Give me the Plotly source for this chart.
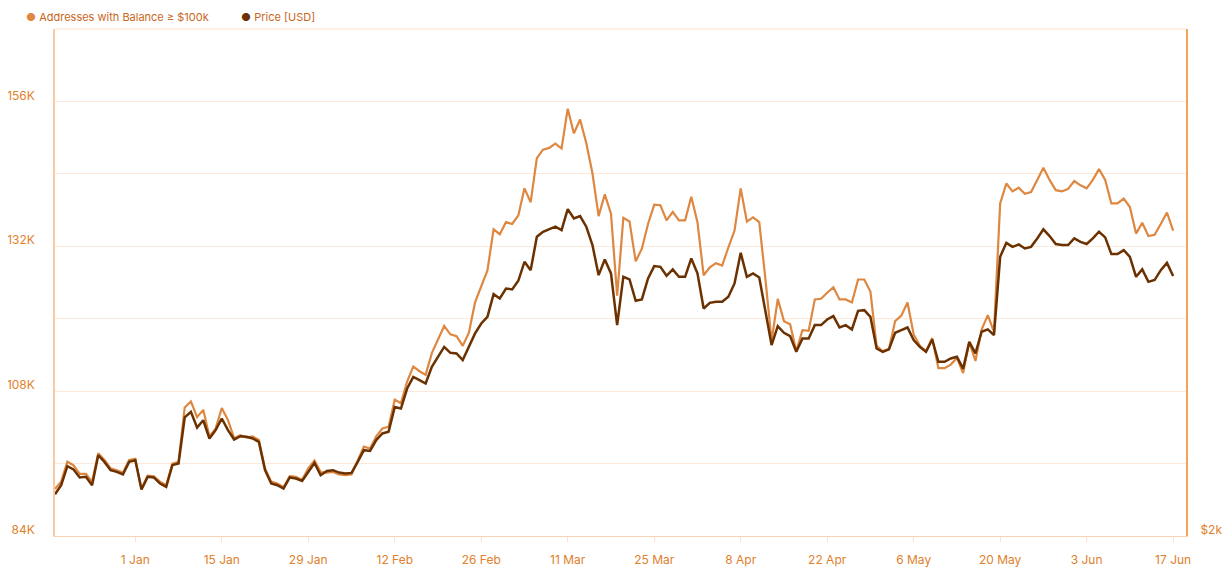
import pandas as pd
import plotly.graph_objects as go

# daily series, 19 Dec 2023 -> 18 Jun 2024
dates = pd.date_range("2023-12-19", "2024-06-18", freq="D")

# addresses holding >= $100k, in thousands
addresses_k = [
    91.8, 93.0, 96.3, 95.7, 94.3, 94.3, 93.0, 97.7, 96.6, 95.2,
    94.9, 94.5, 96.6, 96.8, 91.8, 94.0, 93.9, 93.0, 92.4, 96.0,
    96.3, 105.3, 106.3, 103.7, 104.9, 100.5, 101.8, 105.2, 103.2, 100.2,
    100.7, 100.3, 100.5, 99.9, 95.2, 93.0, 92.7, 92.1, 93.9, 93.8,
    93.3, 95.2, 96.5, 94.6, 94.5, 94.6, 94.2, 94.1, 94.2, 96.6,
    98.8, 98.5, 100.5, 101.8, 102.1, 106.6, 106.0, 109.6, 112.1, 111.3,
    110.7, 114.3, 116.6, 118.8, 117.4, 117.1, 115.5, 117.7, 122.7, 125.5,
    128.0, 134.8, 134.0, 136.0, 135.7, 137.1, 141.6, 139.3, 146.6, 148.0,
    148.3, 149.0, 148.2, 154.8, 150.7, 153.0, 149.1, 144.1, 137.0, 140.6,
    137.4, 123.8, 136.7, 136.1, 129.5, 131.6, 135.7, 138.9, 138.8, 136.3,
    137.7, 136.3, 136.3, 140.2, 136.0, 127.2, 128.5, 129.2, 128.8, 131.8,
    134.6, 141.6, 136.1, 136.8, 136.0, 126.6, 116.3, 123.3, 119.6, 119.1,
    114.6, 118.1, 118.0, 123.2, 123.3, 124.3, 125.2, 123.2, 123.2, 122.7,
    126.5, 126.5, 124.5, 115.5, 114.6, 115.0, 119.6, 120.5, 122.7, 117.4,
    115.5, 114.6, 116.8, 111.8, 111.8, 112.4, 113.5, 111.0, 116.1, 113.0,
    118.2, 120.6, 117.8, 139.1, 142.4, 141.1, 141.7, 140.7, 141.0, 143.0,
    145.0, 143.0, 141.3, 141.1, 141.5, 142.8, 142.1, 141.6, 143.0, 144.8,
    143.0, 139.1, 139.1, 139.9, 138.5, 134.1, 135.9, 133.7, 133.9, 135.7,
    137.6, 134.6,
]

# price in USD
price_usd = [
    2243, 2304, 2432, 2410, 2356, 2360, 2304, 2506, 2461, 2405,
    2394, 2376, 2461, 2472, 2275, 2360, 2356, 2315, 2292, 2439,
    2450, 2761, 2799, 2693, 2742, 2619, 2675, 2754, 2675, 2612,
    2634, 2630, 2619, 2596, 2405, 2315, 2304, 2281, 2356, 2349,
    2333, 2394, 2454, 2371, 2400, 2405, 2389, 2383, 2387, 2461,
    2540, 2535, 2608, 2653, 2664, 2832, 2821, 2956, 3035, 3013,
    2990, 3102, 3170, 3237, 3197, 3193, 3148, 3237, 3328, 3395,
    3440, 3593, 3564, 3631, 3625, 3683, 3811, 3755, 3980, 4014,
    4030, 4048, 4025, 4167, 4104, 4120, 4048, 3924, 3721, 3827,
    3733, 3384, 3710, 3692, 3548, 3557, 3699, 3782, 3777, 3717,
    3760, 3710, 3710, 3834, 3733, 3496, 3534, 3541, 3541, 3575,
    3665, 3872, 3710, 3733, 3706, 3485, 3249, 3377, 3332, 3310,
    3204, 3294, 3294, 3384, 3384, 3422, 3445, 3368, 3384, 3355,
    3480, 3485, 3440, 3226, 3204, 3220, 3332, 3350, 3368, 3283,
    3237, 3204, 3287, 3136, 3136, 3159, 3170, 3090, 3271, 3193,
    3339, 3355, 3316, 3845, 3939, 3912, 3928, 3901, 3912, 3969,
    4030, 3985, 3931, 3924, 3924, 3969, 3946, 3931, 3969, 4014,
    3976, 3863, 3863, 3890, 3845, 3710, 3760, 3676, 3688, 3755,
    3804, 3715,
]

left_ticks = [84, 108, 132, 156]
left_labels = ["84K", "108K", "132K", "156K"]
left_minor = [96, 120, 144, 168]

series_names = ["Addresses with Balance ≥ $100k", "Price [USD]"]

LIGHT = "#de8740"
DARK = "#6b3100"
LABEL = "#e0802c"
GRID = "#fde8da"

# the page body adds an 8px offset, so the figure is 8px smaller than the window
W, H = 1222, 562
ML, MR, MT, MB = 47, 44, 21, 34
plot_w = W - ML - MR

fig = go.Figure()
fig.add_trace(go.Scatter(x=dates, y=addresses_k, mode="lines", name=series_names[0],
                         line=dict(color=LIGHT, width=2.2)))
fig.add_trace(go.Scatter(x=dates, y=price_usd, mode="lines", name=series_names[1], yaxis="y2",
                         line=dict(color=DARK, width=2.5)))

# legend drawn as text: coloured dot + name
legend_left = [16, 231]
for name, colour, lx in zip(series_names, [LIGHT, DARK], legend_left):
    fig.add_annotation(
        xref="paper", yref="paper", x=(lx - ML) / plot_w, y=1, yshift=12,
        xanchor="left", yanchor="middle", showarrow=False,
        text=f'<span style="color:{colour}">●</span> {name}',
        font=dict(size=11, color="#c9661c"),
    )

fig.update_layout(
    width=W, height=H,
    margin=dict(l=ML, r=MR, t=MT, b=MB, autoexpand=False),
    paper_bgcolor="white", plot_bgcolor="white",
    font=dict(family="Inter, Roboto, sans-serif", size=12, color=LABEL),
    showlegend=False,
    xaxis=dict(
        range=["2023-12-19", "2024-06-19 02:00"],
        tick0="2024-01-01", dtick=14 * 86400000, tickformat="%-d %b",
        showgrid=False, showline=True, linecolor="#fbd2b2", linewidth=1,
        ticks="outside", ticklen=5, tickcolor="#fde3cf", ticklabelstandoff=8,
        tickfont=dict(size=12, color=LABEL), automargin=False,
    ),
    yaxis=dict(
        range=[84, 168], tickmode="array", tickvals=left_ticks, ticktext=left_labels,
        showgrid=True, gridcolor=GRID, gridwidth=1,
        minor=dict(tickmode="array", tickvals=left_minor, showgrid=True, gridcolor=GRID, gridwidth=1),
        showline=True, linecolor="#fbc9a2", linewidth=1.5,
        ticks="", ticklabelstandoff=16, ticklabelshift=-6, zeroline=False,
        tickfont=dict(size=12, color=LABEL), automargin=False,
    ),
    yaxis2=dict(
        overlaying="y", side="right", range=[1961, 5382],
        tickmode="array", tickvals=[2000], ticktext=["$2k"],
        showgrid=False, showline=True, linecolor="#f6a35a", linewidth=2,
        ticks="", ticklabelstandoff=10, zeroline=False,
        tickfont=dict(size=12, color=LABEL), automargin=False,
    ),
    shapes=[dict(type="line", xref="paper", yref="paper", x0=0, x1=1, y0=1, y1=1,
                 line=dict(color="#fde0cb", width=1))],
)

fig.write_html("out.html")
